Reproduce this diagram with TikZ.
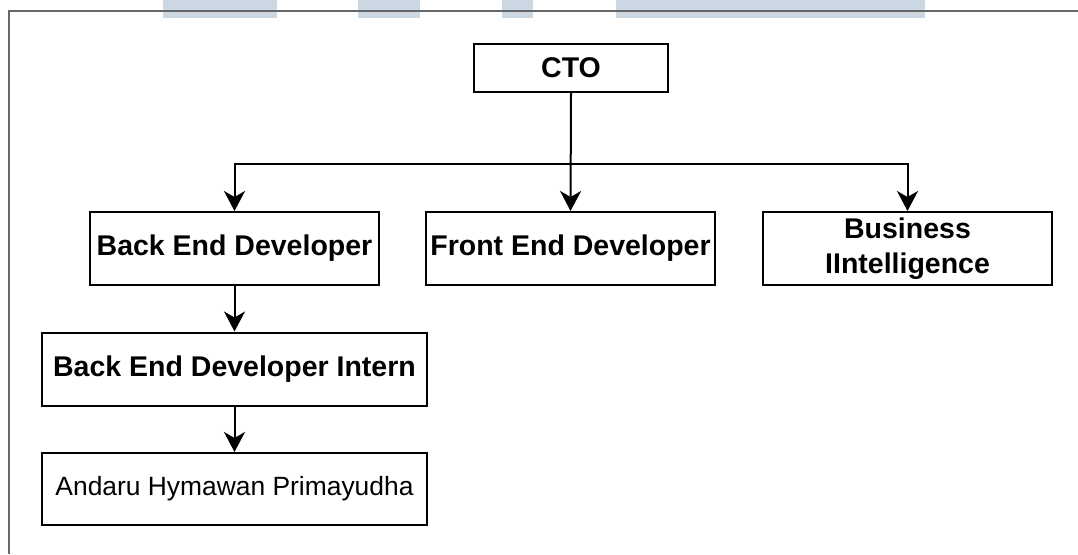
\documentclass[tikz,border=0pt]{standalone}
\usepackage{fontspec}
\setmainfont{Liberation Sans}
\usetikzlibrary{arrows.meta}
\definecolor{bandblue}{HTML}{CBD7E3}
\definecolor{framegray}{HTML}{676767}
\tikzset{
  role/.style={draw=black, line width=2pt, fill=white, inner sep=0pt,
    align=center, font=\fontsize{28.5}{35}\selectfont\bfseries},
  person/.style={draw=black, line width=2pt, fill=white, inner sep=0pt,
    align=center, font=\fontsize{26.4}{32}\selectfont},
  link/.style={line width=2pt, draw=black,
    -{Stealth[length=20pt, width=21pt, inset=6pt]}},
}
\begin{document}
\begin{tikzpicture}[x=1pt, y=-1pt]
  \useasboundingbox (0,0) rectangle (1078,554);
  \fill[white] (0,0) rectangle (1078,554);

  % header bands
  \fill[bandblue] (163,0) rectangle (277,18);
  \fill[bandblue] (358,0) rectangle (420,18);
  \fill[bandblue] (502,0) rectangle (533,18);
  \fill[bandblue] (616,0) rectangle (925,18);

  % page frame
  \draw[framegray, line width=2pt] (1078,11) -- (9,11) -- (9,554);

  % boxes
  \node[role, minimum width=194pt, minimum height=48pt] (cto) at (571,68) {CTO};
  \node[role, minimum width=289pt, minimum height=73pt] (be) at (234.5,248.5) {Back End Developer};
  \node[role, minimum width=289pt, minimum height=73pt] (fe) at (570.5,248.5) {Front End Developer};
  \node[role, minimum width=289pt, minimum height=73pt] (bi) at (907.5,248.5) {Business\\IIntelligence};
  \node[role, minimum width=385pt, minimum height=73pt] (intern) at (234.5,369) {Back End Developer Intern};
  \node[person, minimum width=385pt, minimum height=72pt] (andaru) at (234.5,489) {Andaru Hymawan Primayudha};

  % connectors
  \coordinate (split) at (571,164);
  \draw[link] (cto.south) -- (fe.north);
  \draw[link] (split) -| (be.north);
  \draw[link] (split) -| (bi.north);
  \draw[link] (be.south) -- (intern.north);
  \draw[link] (intern.south) -- (andaru.north);
\end{tikzpicture}
\end{document}
